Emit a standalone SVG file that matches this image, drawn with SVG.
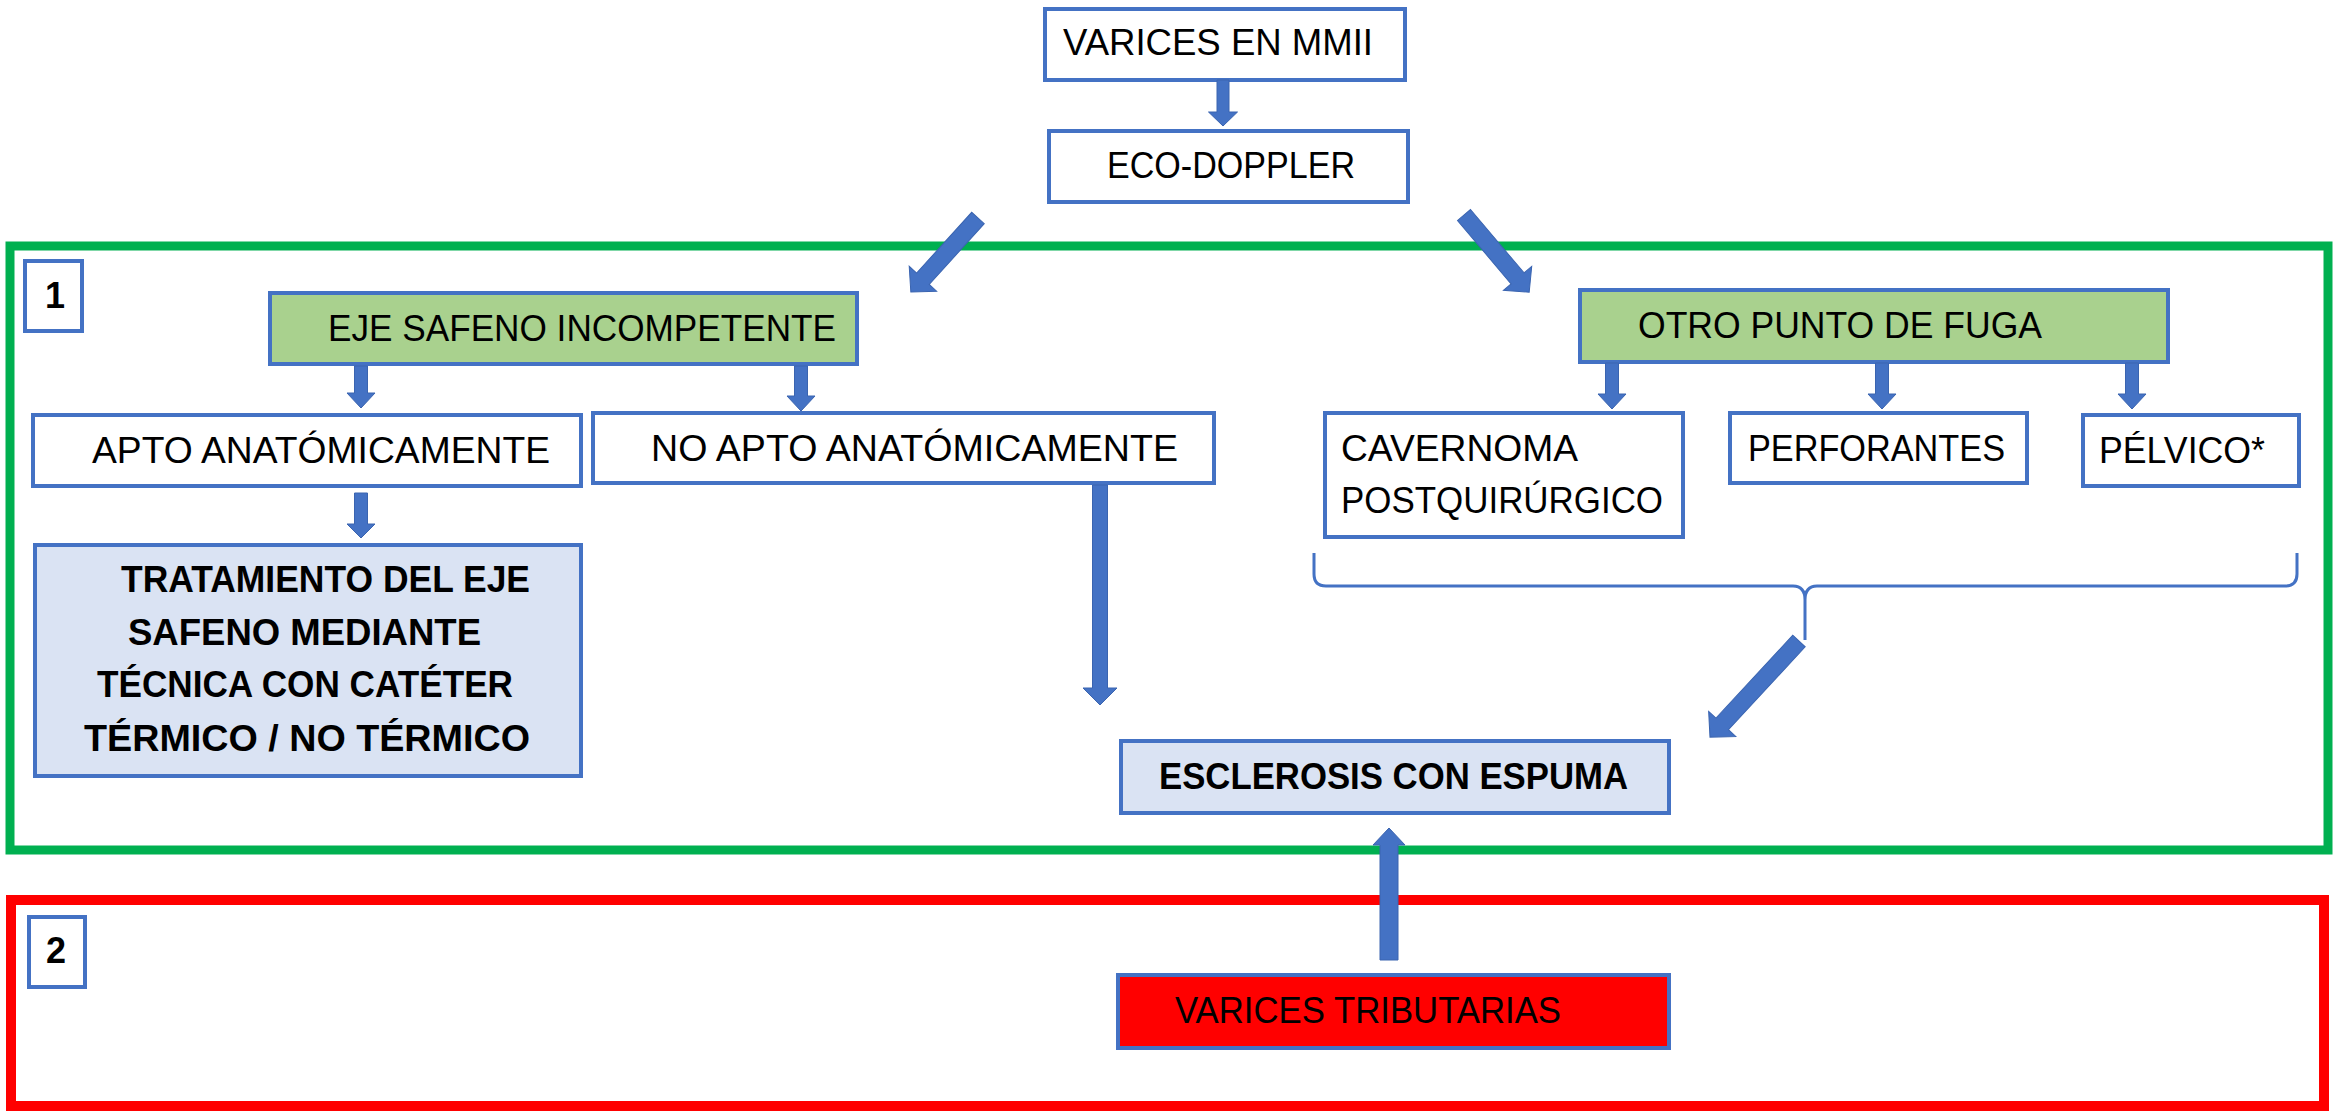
<svg xmlns="http://www.w3.org/2000/svg" width="2341" height="1116" viewBox="0 0 2341 1116">
<style>
.bx{fill:#FFFFFF;stroke:#4472C4;stroke-width:4}
.gr{fill:#A9D18E;stroke:#4472C4;stroke-width:4}
.lb{fill:#DAE3F3;stroke:#4472C4;stroke-width:4}
.rd{fill:#FF0000;stroke:#4472C4;stroke-width:4}
.t{font-family:"Liberation Sans",Arial,sans-serif;font-size:36px;fill:#000}
.b{font-weight:bold}
.ar{fill:#4472C4;stroke:#3A64B0;stroke-width:1}
</style>
<rect x="0" y="0" width="2341" height="1116" fill="#FFFFFF"/>
<g id="frames">
<rect id="frame1" x="10" y="246" width="2318" height="604" fill="none" stroke="#00B050" stroke-width="9"/>
<rect id="frame2" x="11" y="900" width="2313" height="206" fill="none" stroke="#FF0000" stroke-width="10"/>
</g>
<g id="n-varices"><rect class="bx" x="1045" y="9" width="360" height="71"/><text class="t" x="1063" y="55" textLength="310" lengthAdjust="spacingAndGlyphs">VARICES EN MMII</text></g>
<g id="n-eco"><rect class="bx" x="1049" y="131" width="359" height="71"/><text class="t" x="1107" y="178" textLength="248" lengthAdjust="spacingAndGlyphs">ECO-DOPPLER</text></g>
<g id="n-1"><rect class="bx" x="25" y="261" width="57" height="70"/><text class="t b" x="45" y="308">1</text></g>
<g id="n-eje"><rect class="gr" x="270" y="293" width="587" height="71"/><text class="t" x="328" y="341" textLength="508" lengthAdjust="spacingAndGlyphs">EJE SAFENO INCOMPETENTE</text></g>
<g id="n-otro"><rect class="gr" x="1580" y="290" width="588" height="72"/><text class="t" x="1638" y="338" textLength="404" lengthAdjust="spacingAndGlyphs">OTRO PUNTO DE FUGA</text></g>
<g id="n-apto"><rect class="bx" x="33" y="415" width="548" height="71"/><text class="t" x="92" y="463" textLength="458" lengthAdjust="spacingAndGlyphs">APTO ANATÓMICAMENTE</text></g>
<g id="n-noapto"><rect class="bx" x="593" y="413" width="621" height="70"/><text class="t" x="651" y="461" textLength="527" lengthAdjust="spacingAndGlyphs">NO APTO ANATÓMICAMENTE</text></g>
<g id="n-cavernoma"><rect class="bx" x="1325" y="413" width="358" height="124"/><text class="t" x="1341" y="461" textLength="237" lengthAdjust="spacingAndGlyphs">CAVERNOMA</text><text class="t" x="1341" y="513" textLength="322" lengthAdjust="spacingAndGlyphs">POSTQUIRÚRGICO</text></g>
<g id="n-perforantes"><rect class="bx" x="1730" y="413" width="297" height="70"/><text class="t" x="1748" y="461" textLength="257" lengthAdjust="spacingAndGlyphs">PERFORANTES</text></g>
<g id="n-pelvico"><rect class="bx" x="2083" y="415" width="216" height="71"/><text class="t" x="2099" y="463" textLength="166" lengthAdjust="spacingAndGlyphs">PÉLVICO*</text></g>
<g id="n-tratamiento"><rect class="lb" x="35" y="545" width="546" height="231"/>
<text class="t b" x="121" y="592" textLength="409" lengthAdjust="spacingAndGlyphs">TRATAMIENTO DEL EJE</text>
<text class="t b" x="128" y="645" textLength="353" lengthAdjust="spacingAndGlyphs">SAFENO MEDIANTE</text>
<text class="t b" x="97" y="697" textLength="416" lengthAdjust="spacingAndGlyphs">TÉCNICA CON CATÉTER</text>
<text class="t b" x="84" y="751" textLength="446" lengthAdjust="spacingAndGlyphs">TÉRMICO / NO TÉRMICO</text></g>
<g id="n-esclerosis"><rect class="lb" x="1121" y="741" width="548" height="72"/><text class="t b" x="1159" y="789" textLength="469" lengthAdjust="spacingAndGlyphs">ESCLEROSIS CON ESPUMA</text></g>
<g id="n-2"><rect class="bx" x="29" y="917" width="56" height="70"/><text class="t b" x="46" y="963">2</text></g>
<g id="n-tributarias"><rect class="rd" x="1118" y="975" width="551" height="73"/><text class="t" x="1175" y="1023" textLength="386" lengthAdjust="spacingAndGlyphs" fill="#111">VARICES TRIBUTARIAS</text></g>
<g id="connectors">
<path id="brace" d="M1314,553 V574 Q1314,586 1326,586 H1793 Q1805,586 1805,600 V640 M1805,600 Q1805,586 1817,586 H2285 Q2297,586 2297,574 V553" fill="none" stroke="#4472C4" stroke-width="3"/>
<polygon class="ar" points="1217,80 1229,80 1229,112 1237.5,112 1223,126 1208.5,112 1217,112"/>
<polygon class="ar" points="354.5,366 367.5,366 367.5,393 375,393 361,408 347,393 354.5,393"/>
<polygon class="ar" points="794.5,366 807.5,366 807.5,396 815,396 801,411 787,396 794.5,396"/>
<polygon class="ar" points="354.5,493 367.5,493 367.5,524 375,524 361,538 347,524 354.5,524"/>
<polygon class="ar" points="1092.5,485 1107.5,485 1107.5,688 1117,688 1100,705 1083,688 1092.5,688"/>
<polygon class="ar" points="1605.5,363 1618.5,363 1618.5,394 1626,394 1612,409 1598,394 1605.5,394"/>
<polygon class="ar" points="1875.5,363 1888.5,363 1888.5,394 1896,394 1882,409 1868,394 1875.5,394"/>
<polygon class="ar" points="2125.5,363 2138.5,363 2138.5,394 2146,394 2132,409 2118,394 2125.5,394"/>
<polygon class="ar" points="1380,960 1398,960 1398,845 1405,845 1389,828 1373,845 1380,845"/>
<path class="ar" transform="translate(978,218) rotate(132.2)" d="M0,-8.5 H82 V-18.5 L100,0 L82,18.5 V8.5 H0 Z"/>
<path class="ar" transform="translate(1464,215) rotate(49.8)" d="M0,-8.5 H83 V-18.5 L101,0 L83,18.5 V8.5 H0 Z"/>
<path class="ar" transform="translate(1799,641) rotate(132.8)" d="M0,-8.5 H113 V-18.5 L131,0 L113,18.5 V8.5 H0 Z"/>
</g>
</svg>
